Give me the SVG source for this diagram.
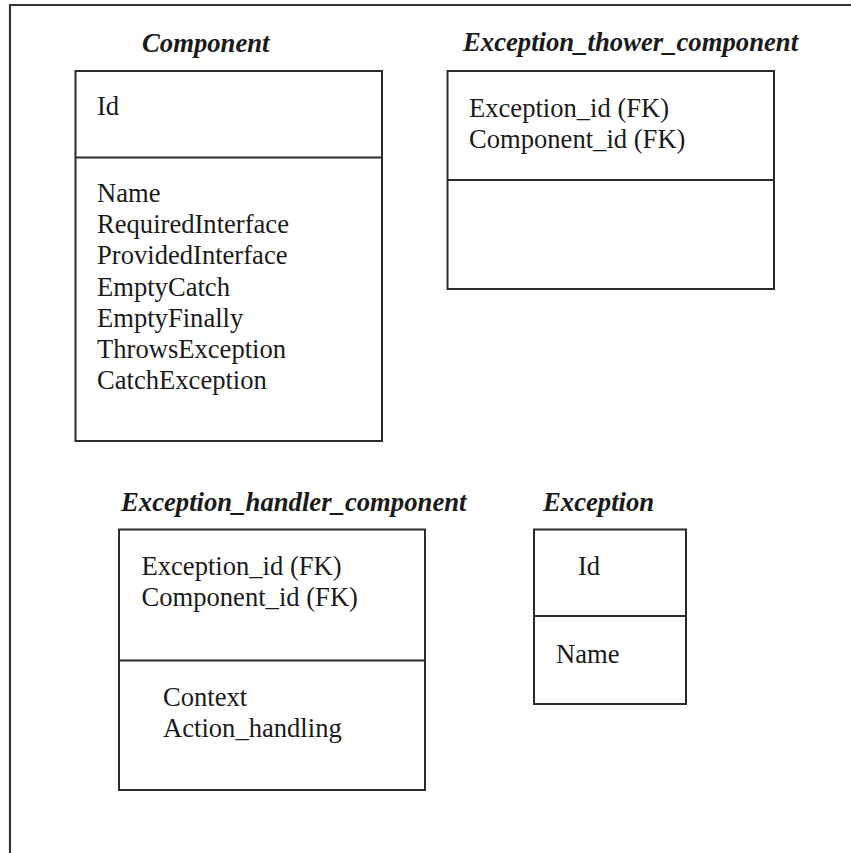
<svg xmlns="http://www.w3.org/2000/svg" width="851" height="853" viewBox="0 0 851 853">
<style>
.box{fill:none;stroke:#2a2a2a;stroke-width:2}
.t{font-family:"Liberation Serif","Times New Roman",serif;font-size:26.6px;fill:#1a1a1a}
.h{font-family:"Liberation Serif","Times New Roman",serif;font-size:26.7px;font-weight:bold;font-style:italic;fill:#1a1a1a}
</style>
<rect width="851" height="853" fill="#ffffff"/>
<path d="M10,853 V5 H851" fill="none" stroke="#333" stroke-width="2.2"/>
<g id="component">
<text class="h" x="142" y="52">Component</text>
<rect class="box" x="75.5" y="71" width="306.5" height="370"/>
<line class="box" x1="75.5" y1="157.5" x2="382" y2="157.5"/>
<text class="t" x="97" y="115">Id</text>
<text class="t" x="97" y="202">Name</text>
<text class="t" x="97" y="233.2">RequiredInterface</text>
<text class="t" x="97" y="264.4">ProvidedInterface</text>
<text class="t" x="97" y="295.6">EmptyCatch</text>
<text class="t" x="97" y="326.8">EmptyFinally</text>
<text class="t" x="97" y="358">ThrowsException</text>
<text class="t" x="97" y="389.2">CatchException</text>
</g>
<g id="exception_thower_component">
<text class="h" x="463" y="51">Exception_thower_component</text>
<rect class="box" x="447.5" y="71" width="326.5" height="218"/>
<line class="box" x1="447.5" y1="180" x2="774" y2="180"/>
<text class="t" x="469" y="117">Exception_id (FK)</text>
<text class="t" x="469" y="148">Component_id (FK)</text>
</g>
<g id="exception_handler_component">
<text class="h" x="121" y="511">Exception_handler_component</text>
<rect class="box" x="119" y="529.5" width="306" height="260.5"/>
<line class="box" x1="119" y1="660.5" x2="425" y2="660.5"/>
<text class="t" x="141.5" y="575">Exception_id (FK)</text>
<text class="t" x="141.5" y="606">Component_id (FK)</text>
<text class="t" x="163" y="706">Context</text>
<text class="t" x="163" y="737">Action_handling</text>
</g>
<g id="exception">
<text class="h" x="543" y="511">Exception</text>
<rect class="box" x="534" y="529.5" width="152" height="174.5"/>
<line class="box" x1="534" y1="616" x2="686" y2="616"/>
<text class="t" x="578" y="575">Id</text>
<text class="t" x="556" y="663">Name</text>
</g>
<g id="connectors"/>
</svg>
